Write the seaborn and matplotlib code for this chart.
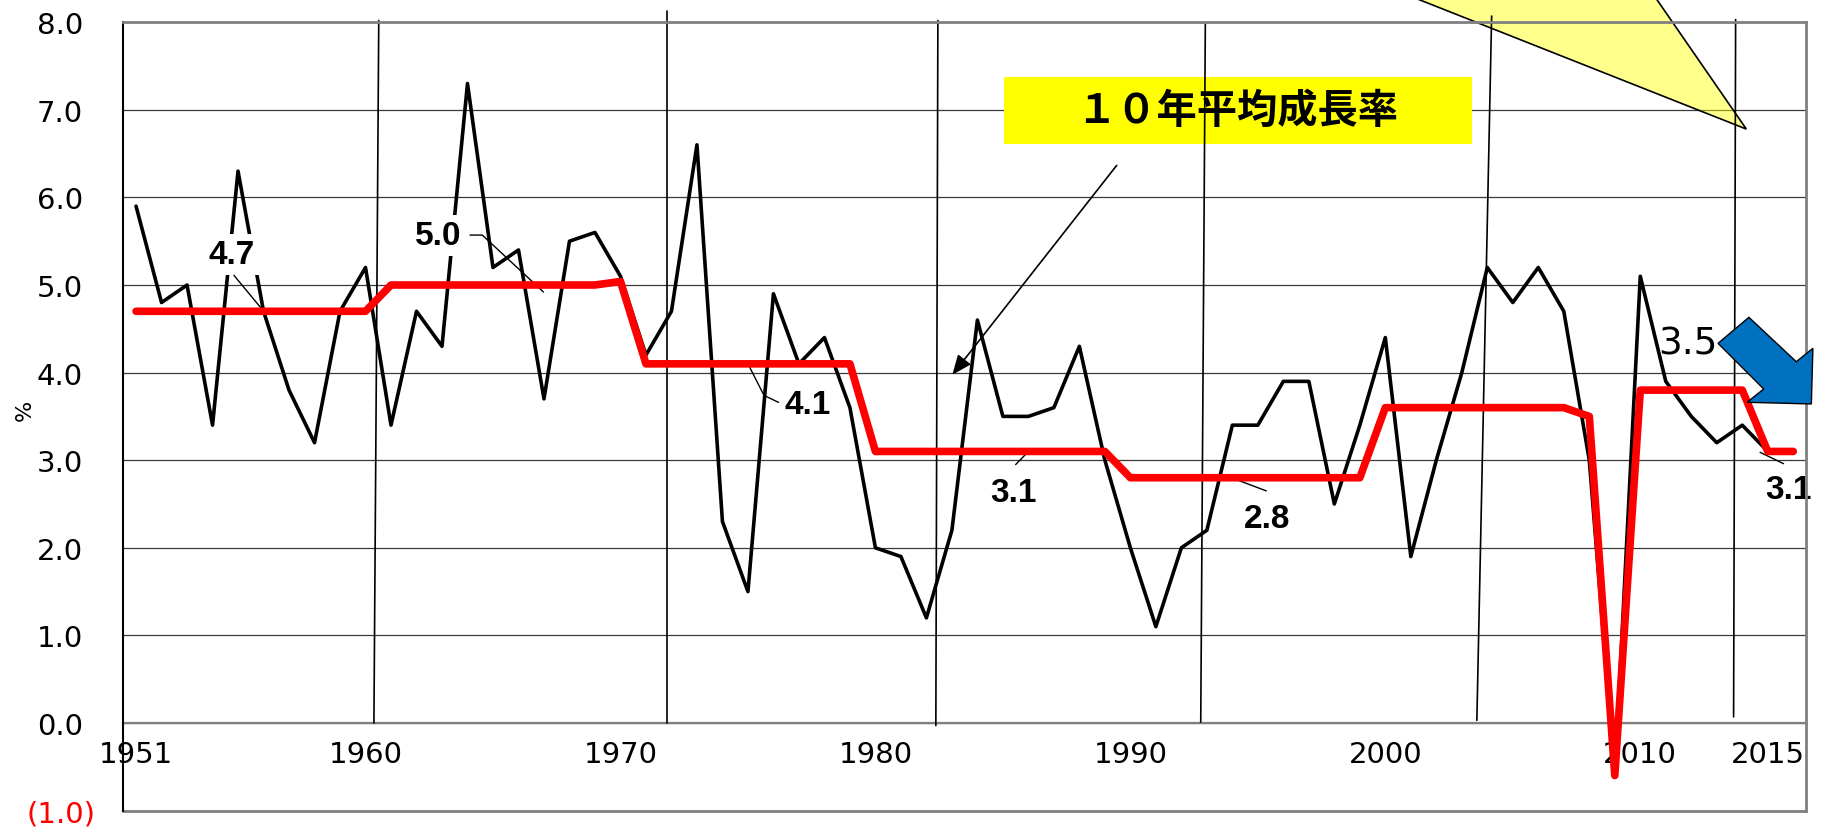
import numpy as np
import pandas as pd
import matplotlib
matplotlib.use('Agg')
import matplotlib.pyplot as plt
import seaborn as sns
from matplotlib.patches import Polygon, Rectangle
from matplotlib.transforms import ScaledTranslation

# ---- data ----
years = list(range(1951, 2017))

growth = [5.9, 4.8, 5.0, 3.4, 6.3, 4.7, 3.8, 3.2, 4.7, 5.2,
          3.4, 4.7, 4.3, 7.3, 5.2, 5.4, 3.7, 5.5, 5.6, 5.1,
          4.2, 4.7, 6.6, 2.3, 1.5, 4.9, 4.1, 4.4, 3.6, 2.0,
          1.9, 1.2, 2.2, 4.6, 3.5, 3.5, 3.6, 4.3, 3.0, 2.0,
          1.1, 2.0, 2.2, 3.4, 3.4, 3.9, 3.9, 2.5, 3.4, 4.4,
          1.9, 3.0, 4.0, 5.2, 4.8, 5.2, 4.7, 3.0, -0.6, 5.1,
          3.9, 3.5, 3.2, 3.4, 3.1, np.nan]

avg10 = ([4.7] * 10 + [5.0] * 9 + [5.04] + [4.1] * 9 + [3.1] * 10
         + [2.8] * 10 + [3.6] * 8 + [3.5, -0.6] + [3.8] * 5 + [3.1] * 2)

xtick_years = [1951, 1960, 1970, 1980, 1990, 2000, 2010, 2015]
ytick_vals = [-1, 0, 1, 2, 3, 4, 5, 6, 7, 8]
ytick_labels = ['(1.0)', '0.0', '1.0', '2.0', '3.0', '4.0', '5.0', '6.0', '7.0', '8.0']

avg_label_texts = ['4.7', '5.0', '4.1', '3.1', '2.8', '3.1']
box_text = '１０年平均成長率'
trend_text = '3.5'

# ---- annotation geometry (positions only) ----
label_pos = [(1954.76, 5.35), (1962.87, 5.56), (1977.33, 3.64),
             (1985.43, 2.63), (1995.36, 2.34), (2015.80, 2.67)]
leaders = [
    [(1954.84, 5.11), (1955.98, 4.71)],
    [(1964.10, 5.57), (1964.58, 5.57), (1966.98, 4.92)],
    [(1975.00, 4.10), (1975.63, 3.74), (1976.20, 3.66)],
    [(1985.50, 2.95), (1985.97, 3.09)],
    [(1995.33, 2.65), (1993.96, 2.80)],
    [(2015.62, 2.96), (2014.70, 3.09)],
]
separators = [
    [(1960.52, 8.02), (1960.33, 0.00)],
    [(1971.82, 8.13), (1971.82, 0.00)],
    [(1982.45, 8.02), (1982.37, -0.03)],
    [(1992.94, 7.98), (1992.76, 0.01)],
    [(2004.17, 8.07), (2003.59, 0.03)],
    [(2013.74, 8.03), (2013.66, 0.07)],
]
callout_tri = [(1998.35, 8.6), (2009.84, 8.6), (2014.16, 6.78)]
blue_arrow = [(2013.05, 4.334), (2014.26, 4.631), (2016.12, 4.124),
              (2016.77, 4.277), (2016.71, 3.642), (2014.19, 3.661),
              (2014.84, 3.813)]

sns.set_style('white')
plt.rcParams['font.family'] = ['DejaVu Sans', 'Noto Sans CJK JP']
plt.rcParams['text.color'] = 'black'
plt.rcParams['xtick.labelcolor'] = 'black'
plt.rcParams['ytick.labelcolor'] = 'black'

W, H = 1825, 829
fig = plt.figure(figsize=(W / 100, H / 100), dpi=100)
ax = fig.add_axes([123.3 / W, (H - 811.6) / H, (1806 - 123.3) / W, (811.6 - 23.2) / H])

df = pd.DataFrame({'year': years, 'growth': growth, 'avg10': avg10})
sns.lineplot(data=df, x='year', y='growth', color='black', linewidth=2.6,
             ax=ax, zorder=5)
sns.lineplot(data=df, x='year', y='avg10', color='#FF0000', linewidth=5.5,
             ax=ax, zorder=9, solid_capstyle='round')

ax.set_xlim(1950.5, 2016.5)
ax.set_ylim(-1, 8)
ax.set_xlabel('')
ax.set_ylabel('')

ax.set_xticks(xtick_years)
ax.set_xticklabels([str(y) for y in xtick_years])
ax.set_xticks(np.arange(1951.5, 2016, 1), minor=True)
ax.tick_params(axis='x', which='major', length=0, pad=12, labelsize=21,
               labelcolor='black')
ax.tick_params(axis='x', which='minor', direction='in', length=6.5,
               width=1, color='#555555')
ax.spines['bottom'].set_position(('data', 0))
ax.spines['bottom'].set_color('#808080')
ax.spines['bottom'].set_linewidth(1.6)

ax.set_yticks(ytick_vals)
ax.set_yticklabels(ytick_labels)
ax.tick_params(axis='y', length=0, pad=29, labelsize=21, labelcolor='black')
neg = ax.get_yticklabels()[0]
neg.set_color('red')
neg.set_transform(neg.get_transform() + ScaledTranslation(0.12, 0, fig.dpi_scale_trans))

ax.grid(axis='y', color='#3a3a3a', linewidth=0.9)
ax.grid(axis='x', visible=False)
ax.axhline(-1, color='#808080', linewidth=2, clip_on=False, zorder=10)
for side in ['top', 'right']:
    ax.spines[side].set_color('#808080')
    ax.spines[side].set_linewidth(2)
    ax.spines[side].set_zorder(10)
ax.spines['left'].set_color('black')
ax.spines['left'].set_linewidth(1.5)
ax.spines['left'].set_zorder(10)

fig.text(25 / W, 1 - 410 / H, '%', rotation=90, fontsize=16,
         ha='center', va='center', color='black')

# decade separator strokes
for seg in separators:
    xs, ys = zip(*seg)
    ax.plot(xs, ys, color='black', linewidth=1.2, clip_on=False, zorder=8)

# average labels with leader lines
for txt, (tx, ty), path in zip(avg_label_texts, label_pos, leaders):
    ax.text(tx, ty, txt, fontsize=24, fontweight='bold', color='black',
            family='Liberation Sans', ha='center', va='center', zorder=7,
            bbox=dict(boxstyle='square,pad=0.15', fc='white', ec='none'))
    xs, ys = zip(*path)
    ax.plot(xs, ys, color='black', linewidth=1, zorder=7)

# yellow title box and arrow
ax.add_patch(Rectangle((1985.04, 6.61), 18.35, 0.76, fc='#FFFF00', ec='none', zorder=6))
ax.text(1994.2, 6.99, box_text, fontsize=29, fontweight='bold', color='black',
        family=['Noto Sans CJK JP', 'DejaVu Sans'], ha='center', va='center', zorder=7)
ax.annotate('', xy=(1982.95, 3.95), xytext=(1989.53, 6.39),
            arrowprops=dict(arrowstyle='-|>,head_length=0.6,head_width=0.25',
                            color='black', lw=1.2, mutation_scale=20),
            zorder=8)

# pale yellow callout wedge
ax.add_patch(Polygon(callout_tri, closed=True, fc=(1, 1, 0, 0.45), ec='black',
                     lw=1.2, clip_on=False, zorder=7))

# blue trend arrow and its label
ax.add_patch(Polygon(blue_arrow, closed=True, fc='#0070C0', ec='black',
                     lw=1, clip_on=False, zorder=11))
ax.text(2011.87, 4.33, trend_text, fontsize=27, ha='center', va='center',
        color='black', zorder=11)

fig.savefig('out.png', dpi=100)
